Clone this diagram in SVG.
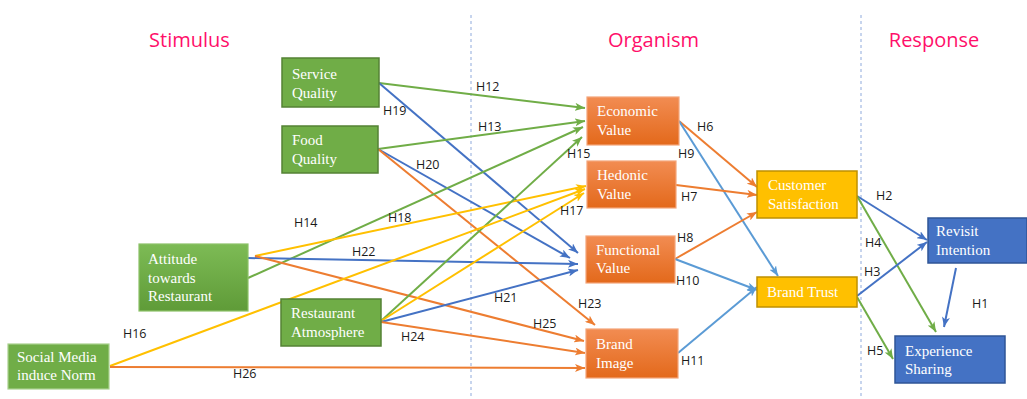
<svg xmlns="http://www.w3.org/2000/svg" width="1027" height="399" viewBox="0 0 1027 399">
<style>
.hdr{font-family:"Open Sans","Liberation Sans",sans-serif;font-size:20px;fill:#FF0F6A;text-anchor:middle}
.lbl{font-family:"Open Sans","Liberation Sans",sans-serif;font-size:12.5px;fill:#1a1a1a}
.nt{font-family:"Liberation Serif","Times New Roman",serif;font-size:15px;fill:#FFFFFF}
.g{fill:#70AD47;stroke:#548235;stroke-width:1.5}
.o{fill:url(#og);stroke:#F4A57A;stroke-width:1.2}
.y{fill:#FFC000;stroke:#BF9000;stroke-width:1.5}
.b{fill:#4472C4;stroke:#2F5597;stroke-width:1.5}
.c{fill:none;stroke-width:2}
.cg{stroke:#70AD47;marker-end:url(#mg)}
.cb{stroke:#4472C4;marker-end:url(#mb)}
.co{stroke:#ED7D31;marker-end:url(#mo)}
.cy{stroke:#FFC000;marker-end:url(#my)}
.cl{stroke:#5B9BD5;marker-end:url(#ml)}
.sep{stroke:#8FAADC;stroke-width:1;stroke-dasharray:3,3}
</style>
<defs>
<linearGradient id="og" x1="0" y1="0" x2="0" y2="1"><stop offset="0" stop-color="#F28C52"/><stop offset="1" stop-color="#E3691B"/></linearGradient>
<linearGradient id="gg" x1="0" y1="0" x2="0" y2="1"><stop offset="0" stop-color="#7DBB55"/><stop offset="1" stop-color="#5F9B38"/></linearGradient>
<marker id="mg" viewBox="0 0 10 8" refX="10" refY="4" markerWidth="10" markerHeight="8" markerUnits="userSpaceOnUse" orient="auto"><path d="M0,0 L10,4 L0,8 L2.5,4 z" fill="#70AD47"/></marker>
<marker id="mb" viewBox="0 0 10 8" refX="10" refY="4" markerWidth="10" markerHeight="8" markerUnits="userSpaceOnUse" orient="auto"><path d="M0,0 L10,4 L0,8 L2.5,4 z" fill="#4472C4"/></marker>
<marker id="mo" viewBox="0 0 10 8" refX="10" refY="4" markerWidth="10" markerHeight="8" markerUnits="userSpaceOnUse" orient="auto"><path d="M0,0 L10,4 L0,8 L2.5,4 z" fill="#ED7D31"/></marker>
<marker id="my" viewBox="0 0 10 8" refX="10" refY="4" markerWidth="10" markerHeight="8" markerUnits="userSpaceOnUse" orient="auto"><path d="M0,0 L10,4 L0,8 L2.5,4 z" fill="#FFC000"/></marker>
<marker id="ml" viewBox="0 0 10 8" refX="10" refY="4" markerWidth="10" markerHeight="8" markerUnits="userSpaceOnUse" orient="auto"><path d="M0,0 L10,4 L0,8 L2.5,4 z" fill="#5B9BD5"/></marker>
</defs>
<rect width="1027" height="399" fill="#FFFFFF"/>

<g id="headers">
<text class="hdr" x="189.5" y="47">Stimulus</text>
<text class="hdr" x="653.5" y="47">Organism</text>
<text class="hdr" x="934" y="47">Response</text>
</g>
<g id="separators">
<line class="sep" x1="471" y1="15" x2="471" y2="399"/>
<line class="sep" x1="861" y1="15" x2="861" y2="399"/>
</g>

<g id="connectors">
<line class="c cg" x1="379" y1="83" x2="585" y2="108"/>
<line class="c cb" x1="379" y1="83" x2="578" y2="253"/>
<line class="c cg" x1="378" y1="149" x2="585" y2="121"/>
<line class="c cb" x1="378" y1="149" x2="570" y2="258"/>
<line class="c co" x1="378" y1="149" x2="595" y2="325"/>
<line class="c cg" x1="248" y1="278" x2="583" y2="127"/>
<line class="c cy" x1="255" y1="256" x2="586" y2="186"/>
<line class="c cb" x1="248" y1="258" x2="578" y2="264"/>
<line class="c co" x1="255" y1="256" x2="584" y2="341"/>
<line class="c cg" x1="381" y1="321" x2="582" y2="137"/>
<line class="c cy" x1="381" y1="321" x2="584" y2="193"/>
<line class="c cb" x1="381" y1="322" x2="578" y2="270"/>
<line class="c co" x1="381" y1="322" x2="585" y2="353"/>
<line class="c cy" x1="110" y1="366" x2="585" y2="189"/>
<line class="c co" x1="110" y1="367" x2="585" y2="368"/>
<line class="c co" x1="679" y1="121" x2="757" y2="187"/>
<line class="c cl" x1="679" y1="121" x2="778" y2="276"/>
<line class="c co" x1="676" y1="185" x2="757" y2="195"/>
<line class="c co" x1="675" y1="259" x2="757" y2="212"/>
<line class="c cl" x1="675" y1="259" x2="757" y2="290"/>
<line class="c cl" x1="678" y1="353" x2="757" y2="287"/>
<line class="c cb" x1="857" y1="196" x2="927" y2="240"/>
<line class="c cg" x1="857" y1="196" x2="936" y2="332"/>
<line class="c cb" x1="857" y1="296" x2="927" y2="242"/>
<line class="c cg" x1="857" y1="297" x2="893" y2="359"/>
<line class="c cb" x1="956" y1="268" x2="944" y2="327"/>
</g>

<g id="labels">
<text class="lbl" x="476" y="91">H12</text>
<text class="lbl" x="383" y="115">H19</text>
<text class="lbl" x="478" y="131">H13</text>
<text class="lbl" x="416" y="169">H20</text>
<text class="lbl" x="567" y="158">H15</text>
<text class="lbl" x="678" y="158">H9</text>
<text class="lbl" x="697" y="131">H6</text>
<text class="lbl" x="681" y="201">H7</text>
<text class="lbl" x="294" y="227">H14</text>
<text class="lbl" x="388" y="222">H18</text>
<text class="lbl" x="560" y="215">H17</text>
<text class="lbl" x="352" y="256">H22</text>
<text class="lbl" x="677" y="242">H8</text>
<text class="lbl" x="676" y="285">H10</text>
<text class="lbl" x="494" y="302">H21</text>
<text class="lbl" x="578" y="308">H23</text>
<text class="lbl" x="533" y="328">H25</text>
<text class="lbl" x="401" y="341">H24</text>
<text class="lbl" x="123" y="338">H16</text>
<text class="lbl" x="233" y="378">H26</text>
<text class="lbl" x="681" y="365">H11</text>
<text class="lbl" x="876" y="200">H2</text>
<text class="lbl" x="865" y="247">H4</text>
<text class="lbl" x="864" y="276">H3</text>
<text class="lbl" x="972" y="308">H1</text>
<text class="lbl" x="867" y="355">H5</text>
</g>

<g id="service-quality"><rect class="g" x="282" y="58" width="97" height="49"/><text class="nt" x="292" y="79">Service</text><text class="nt" x="292" y="98">Quality</text></g>
<g id="food-quality"><rect class="g" x="282" y="126" width="96" height="47"/><text class="nt" x="292" y="145">Food</text><text class="nt" x="292" y="164">Quality</text></g>
<g id="attitude"><rect x="139" y="244" width="109" height="67" fill="url(#gg)" stroke="#8CC168" stroke-width="1.2"/><text class="nt" x="148" y="264">Attitude</text><text class="nt" x="148" y="283">towards</text><text class="nt" x="148" y="301">Restaurant</text></g>
<g id="restaurant-atmosphere"><rect class="g" x="281" y="299" width="100" height="47"/><text class="nt" x="291" y="318">Restaurant</text><text class="nt" x="291" y="337">Atmosphere</text></g>
<g id="social-media"><rect x="8" y="344" width="101" height="45" fill="#70AD47" stroke="#A9D18E" stroke-width="1.2"/><text class="nt" x="17" y="362">Social Media</text><text class="nt" x="17" y="380">induce Norm</text></g>

<g id="economic-value"><rect class="o" x="587" y="97" width="92" height="48"/><text class="nt" x="597" y="116">Economic</text><text class="nt" x="597" y="135">Value</text></g>
<g id="hedonic-value"><rect class="o" x="587" y="161" width="89" height="47"/><text class="nt" x="597" y="180">Hedonic</text><text class="nt" x="597" y="199">Value</text></g>
<g id="functional-value"><rect class="o" x="586" y="236" width="89" height="47"/><text class="nt" x="596" y="255">Functional</text><text class="nt" x="596" y="273">Value</text></g>
<g id="brand-image"><rect class="o" x="586" y="329" width="92" height="49"/><text class="nt" x="596" y="349">Brand</text><text class="nt" x="596" y="368">Image</text></g>

<g id="customer-satisfaction"><rect class="y" x="757" y="171" width="100" height="47"/><text class="nt" x="768" y="190">Customer</text><text class="nt" x="768" y="209">Satisfaction</text></g>
<g id="brand-trust"><rect class="y" x="757" y="277" width="100" height="30"/><text class="nt" x="767" y="297">Brand Trust</text></g>

<g id="revisit-intention"><rect class="b" x="928" y="218" width="99" height="45"/><text class="nt" x="936" y="236">Revisit</text><text class="nt" x="936" y="255">Intention</text></g>
<g id="experience-sharing"><rect class="b" x="895" y="336" width="110" height="47"/><text class="nt" x="905" y="356">Experience</text><text class="nt" x="905" y="374">Sharing</text></g>
</svg>
